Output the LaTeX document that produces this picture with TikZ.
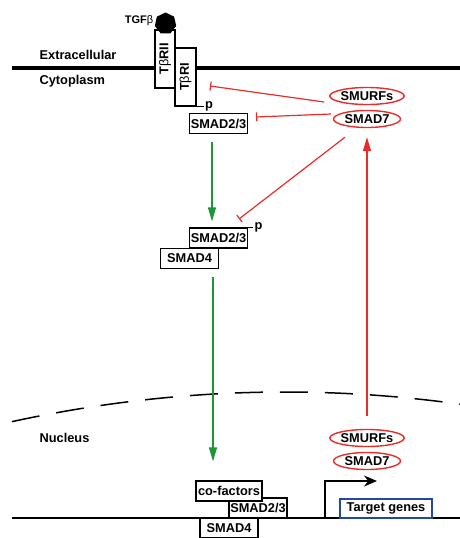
\documentclass[tikz,border=0pt]{standalone}
\usepackage{fontspec}
\setmainfont{Liberation Sans}
\usepackage{graphicx}
\usetikzlibrary{shapes.geometric,arrows.meta}
\definecolor{smred}{RGB}{232,44,40}
\definecolor{smgreen}{RGB}{28,150,56}
\definecolor{smblue}{RGB}{36,72,160}
\begin{document}
\begin{tikzpicture}[x=1pt,y=-1pt,line width=1.2pt,font=\fontsize{12.8}{15}\selectfont\bfseries,
box/.style={draw,fill=white,inner sep=0pt,minimum width=58pt,minimum height=20pt},
prot/.style={draw=smred,ellipse,line width=1.4pt,inner sep=0pt,minimum width=67pt,minimum height=17pt},
inh/.style={smred,-{Bar[width=9pt]}},
act/.style={-{Triangle[length=14pt,width=8pt]}}]
\useasboundingbox (0,0) rectangle (460,538);
\draw[line width=4pt] (12,68)--(460,68);
\draw[line width=1.3pt] (12,518)--(460,518);
\draw[line width=1.5pt,dash pattern=on 28pt off 17pt,domain=12:460,samples=60] plot (\x,{392+.994*((\x-285)/50)^2});
\node[anchor=west,inner sep=1pt] (extra) at (38,55) {Extracellular};
\node[anchor=west,inner sep=1pt] (cyto) at (38,81) {Cytoplasm};
\node[anchor=west,inner sep=1pt] (nucl) at (38,438) {Nucleus};
% receptors
\node[box,minimum width=20pt,minimum height=58pt] (tbrii) at (165,59) {\rotatebox{90}{T{\mdseries β}RII}};
\node[box,minimum width=21pt,minimum height=58pt] (tbri) at (185.5,77) {\rotatebox{90}{T{\mdseries β}RI}};
\node[regular polygon,regular polygon sides=7,fill,inner sep=0pt,minimum size=22pt] (tgf) at (165.5,23.5) {};
\node[anchor=east,inner sep=1pt,yshift=3pt,font=\fontsize{11}{13}\selectfont\bfseries] (tgflab) at (tgf.west) {TGF{\mdseries β}};
\draw (tbri.south east)--++(7,0) node[anchor=west,inner sep=1pt] (pA) {p};
% smads
\node[box] (smadA) at (218.5,123.5) {SMAD2/3};
\node[box] (smadB) at (218.5,238) {SMAD2/3};
\node[box] (smadfour) at (189.5,258.5) {SMAD4};
\draw (smadB.north east)--++(5,0) node[anchor=west,inner sep=1pt] (pB) {p};
\node[box] (smadC) at (258,508) {SMAD2/3};
\node[box,minimum width=66pt] (cofac) at (229,491) {co-factors};
\node[box] (smadD) at (229,528) {SMAD4};
\node[box,draw=smblue,minimum width=92pt,minimum height=19pt] (target) at (386,508.5) {Target genes};
% inhibitors
\node[prot] (smurfA) at (367,96) {SMURFs};
\node[prot] (smadsevA) at (367,119) {SMAD7};
\node[prot] (smurfB) at (367,438) {SMURFs};
\node[prot] (smadsevB) at (367,461) {SMAD7};
\coordinate (hitR) at (210,86);
\coordinate (hitA) at (256,117);
\coordinate (hitB) at (239,219);
\draw[inh] ([xshift=-5pt,yshift=-6pt]smurfA.west)--(hitR);
\draw[inh] ([xshift=-2pt,yshift=5pt]smadsevA.west)--(hitA);
\draw[inh] ([xshift=-22pt,yshift=-9pt]smadsevA.south)--(hitB);
\draw[act,smred] ([yshift=13pt]smurfB.north)--([yshift=-9pt]smadsevA.south);
\draw[act,smgreen] ([xshift=-6.5pt,yshift=-8pt]smadA.south)--([xshift=-6.5pt,yshift=6pt]smadB.north);
\draw[act,smgreen] ([xshift=23.5pt,yshift=-8pt]smadfour.south)--([xshift=-16pt,yshift=19pt]cofac.north);
% transcription
\coordinate (tss) at (325,518);
\coordinate (txn) at (377,481);
\draw[-{Stealth[length=13pt,width=11pt]}] (tss)|-(txn);
\end{tikzpicture}
\end{document}
